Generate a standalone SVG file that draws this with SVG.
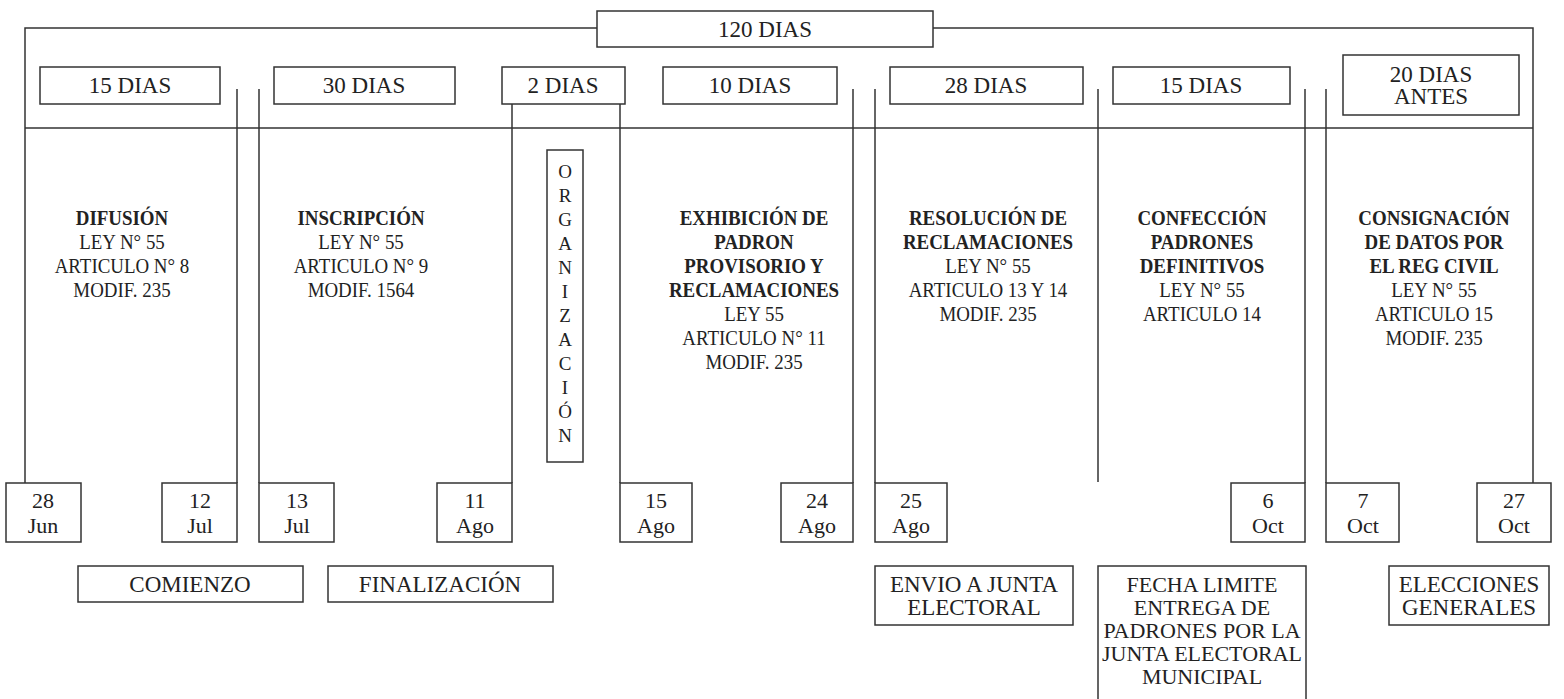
<svg xmlns="http://www.w3.org/2000/svg" width="1564" height="699" viewBox="0 0 1564 699">
<style>
.box{fill:#fff;stroke:#333;stroke-width:1.5}
.ln{stroke:#333;stroke-width:1.5;fill:none}
text{font-family:'Liberation Serif','Times New Roman',Times,serif;fill:#222;text-anchor:middle}
.t{font-size:23px}
.s{font-size:22px}
.m{font-size:22px}
.b{font-weight:bold}
.v{font-size:19px}
</style>
<rect width="1564" height="699" fill="#fff"/>
<g id="connectors">
<polyline class="ln" points="597,28 25,28 25,483"/>
<polyline class="ln" points="933,28 1533,28 1533,483"/>
<line class="ln" x1="25" y1="128" x2="1533" y2="128"/>
<line class="ln" x1="237" y1="89" x2="237" y2="483"/>
<line class="ln" x1="259" y1="89" x2="259" y2="483"/>
<line class="ln" x1="512" y1="104" x2="512" y2="483"/>
<line class="ln" x1="620" y1="104" x2="620" y2="483"/>
<line class="ln" x1="853" y1="89" x2="853" y2="483"/>
<line class="ln" x1="875" y1="89" x2="875" y2="483"/>
<line class="ln" x1="1098" y1="89" x2="1098" y2="482"/>
<line class="ln" x1="1305" y1="89" x2="1305" y2="483"/>
<line class="ln" x1="1326" y1="89" x2="1326" y2="483"/>
</g>
<g id="total"><rect class="box" x="597" y="11" width="336" height="36"/><text class="t" x="765" y="37">120 DIAS</text></g>
<g id="d15a"><rect class="box" x="40" y="67" width="180" height="37"/><text class="t" x="130" y="93">15 DIAS</text></g>
<g id="d30"><rect class="box" x="274" y="67" width="181" height="37"/><text class="t" x="364" y="93">30 DIAS</text></g>
<g id="d2"><rect class="box" x="502" y="67" width="123" height="37"/><text class="t" x="563" y="93">2 DIAS</text></g>
<g id="d10"><rect class="box" x="663" y="67" width="174" height="37"/><text class="t" x="750" y="93">10 DIAS</text></g>
<g id="d28"><rect class="box" x="890" y="67" width="193" height="37"/><text class="t" x="986" y="93">28 DIAS</text></g>
<g id="d15b"><rect class="box" x="1113" y="67" width="177" height="37"/><text class="t" x="1201" y="93">15 DIAS</text></g>
<g id="d20"><rect class="box" x="1343" y="55" width="176" height="60"/><text class="t" x="1431" y="82">20 DIAS</text><text class="t" x="1431" y="104">ANTES</text></g>

<g id="difusion" transform="matrix(0.86 0 0 1 17.08 0)">
<text class="m b" x="122" y="225">DIFUSIÓN</text>
<text class="m" x="122" y="249">LEY N° 55</text>
<text class="m" x="122" y="273">ARTICULO N° 8</text>
<text class="m" x="122" y="297">MODIF. 235</text>
</g>
<g id="inscripcion" transform="matrix(0.86 0 0 1 50.54 0)">
<text class="m b" x="361" y="225">INSCRIPCIÓN</text>
<text class="m" x="361" y="249">LEY N° 55</text>
<text class="m" x="361" y="273">ARTICULO N° 9</text>
<text class="m" x="361" y="297">MODIF. 1564</text>
</g>
<g id="organizacion">
<rect class="box" x="547" y="150" width="36" height="312"/>
<text class="v" x="565" y="178">O</text>
<text class="v" x="565" y="202">R</text>
<text class="v" x="565" y="226">G</text>
<text class="v" x="565" y="250">A</text>
<text class="v" x="565" y="274">N</text>
<text class="v" x="565" y="298">I</text>
<text class="v" x="565" y="322">Z</text>
<text class="v" x="565" y="346">A</text>
<text class="v" x="565" y="370">C</text>
<text class="v" x="565" y="394">I</text>
<text class="v" x="565" y="418">Ó</text>
<text class="v" x="565" y="442">N</text>
</g>
<g id="exhibicion" transform="matrix(0.86 0 0 1 105.56 0)">
<text class="m b" x="754" y="225">EXHIBICIÓN DE</text>
<text class="m b" x="754" y="249">PADRON</text>
<text class="m b" x="754" y="273">PROVISORIO Y</text>
<text class="m b" x="754" y="297">RECLAMACIONES</text>
<text class="m" x="754" y="321">LEY 55</text>
<text class="m" x="754" y="345">ARTICULO N° 11</text>
<text class="m" x="754" y="369">MODIF. 235</text>
</g>
<g id="resolucion" transform="matrix(0.86 0 0 1 138.32 0)">
<text class="m b" x="988" y="225">RESOLUCIÓN DE</text>
<text class="m b" x="988" y="249">RECLAMACIONES</text>
<text class="m" x="988" y="273">LEY N° 55</text>
<text class="m" x="988" y="297">ARTICULO 13 Y 14</text>
<text class="m" x="988" y="321">MODIF. 235</text>
</g>
<g id="confeccion" transform="matrix(0.86 0 0 1 168.28 0)">
<text class="m b" x="1202" y="225">CONFECCIÓN</text>
<text class="m b" x="1202" y="249">PADRONES</text>
<text class="m b" x="1202" y="273">DEFINITIVOS</text>
<text class="m" x="1202" y="297">LEY N° 55</text>
<text class="m" x="1202" y="321">ARTICULO 14</text>
</g>
<g id="consignacion" transform="matrix(0.86 0 0 1 200.76 0)">
<text class="m b" x="1434" y="225">CONSIGNACIÓN</text>
<text class="m b" x="1434" y="249">DE DATOS POR</text>
<text class="m b" x="1434" y="273">EL REG CIVIL</text>
<text class="m" x="1434" y="297">LEY N° 55</text>
<text class="m" x="1434" y="321">ARTICULO 15</text>
<text class="m" x="1434" y="345">MODIF. 235</text>
</g>

<g id="f28jun"><rect class="box" x="6" y="483" width="75" height="59"/><text class="s" x="43" y="508">28</text><text class="s" x="43" y="533">Jun</text></g>
<g id="f12jul"><rect class="box" x="162" y="483" width="75" height="59"/><text class="s" x="200" y="508">12</text><text class="s" x="200" y="533">Jul</text></g>
<g id="f13jul"><rect class="box" x="259" y="483" width="75" height="59"/><text class="s" x="297" y="508">13</text><text class="s" x="297" y="533">Jul</text></g>
<g id="f11ago"><rect class="box" x="437" y="483" width="75" height="59"/><text class="s" x="475" y="508">11</text><text class="s" x="475" y="533">Ago</text></g>
<g id="f15ago"><rect class="box" x="620" y="483" width="72" height="59"/><text class="s" x="656" y="508">15</text><text class="s" x="656" y="533">Ago</text></g>
<g id="f24ago"><rect class="box" x="781" y="483" width="72" height="59"/><text class="s" x="817" y="508">24</text><text class="s" x="817" y="533">Ago</text></g>
<g id="f25ago"><rect class="box" x="875" y="483" width="72" height="59"/><text class="s" x="911" y="508">25</text><text class="s" x="911" y="533">Ago</text></g>
<g id="f6oct"><rect class="box" x="1231" y="483" width="74" height="59"/><text class="s" x="1268" y="508">6</text><text class="s" x="1268" y="533">Oct</text></g>
<g id="f7oct"><rect class="box" x="1326" y="483" width="73" height="59"/><text class="s" x="1363" y="508">7</text><text class="s" x="1363" y="533">Oct</text></g>
<g id="f27oct"><rect class="box" x="1477" y="483" width="74" height="59"/><text class="s" x="1514" y="508">27</text><text class="s" x="1514" y="533">Oct</text></g>

<g id="comienzo"><rect class="box" x="78" y="566" width="225" height="36"/><text class="t" x="190" y="592">COMIENZO</text></g>
<g id="finalizacion"><rect class="box" x="328" y="566" width="225" height="36"/><text class="t" x="440" y="592">FINALIZACIÓN</text></g>
<g id="envio"><rect class="box" x="875" y="566" width="198" height="59"/><text class="t" x="974" y="592">ENVIO A JUNTA</text><text class="t" x="974" y="615">ELECTORAL</text></g>
<g id="fechalimite"><rect class="box" x="1098" y="566" width="208" height="140"/>
<text class="s" x="1202" y="592">FECHA LIMITE</text>
<text class="s" x="1202" y="615">ENTREGA DE</text>
<text class="s" x="1202" y="638">PADRONES POR LA</text>
<text class="s" x="1202" y="661">JUNTA ELECTORAL</text>
<text class="s" x="1202" y="684">MUNICIPAL</text>
</g>
<g id="elecciones"><rect class="box" x="1389" y="566" width="160" height="59"/><text class="t" x="1469" y="592">ELECCIONES</text><text class="t" x="1469" y="615">GENERALES</text></g>
</svg>
